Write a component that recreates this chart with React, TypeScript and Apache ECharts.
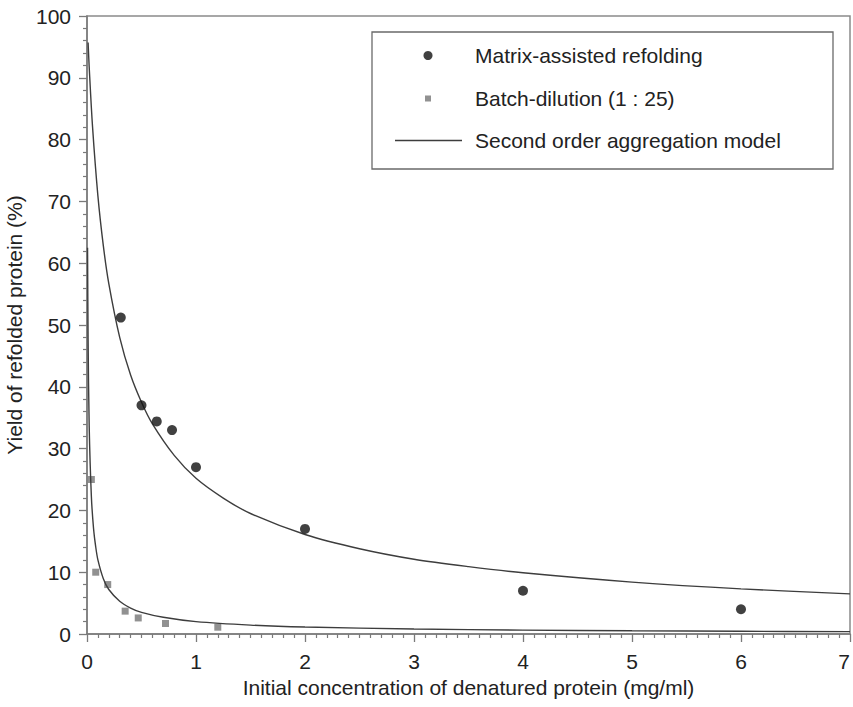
import React, { useEffect, useRef } from "react";
import * as echarts from "echarts";

// Matrix-assisted refolding (circles)
const matrixX = [0.31, 0.5, 0.64, 0.78, 1.0, 2.0, 4.0, 6.0];
const matrixY = [51.2, 37.0, 34.4, 33.0, 27.0, 17.0, 7.0, 4.0];

// Batch-dilution 1:25 (squares)
const batchX = [0.04, 0.08, 0.19, 0.35, 0.47, 0.72, 1.2];
const batchY = [25.0, 10.0, 8.0, 3.7, 2.6, 1.7, 1.1];

// Second order aggregation model, upper curve
const modelUpperX = [0.01, 0.02, 0.05, 0.1, 0.15, 0.2, 0.3, 0.4, 0.5, 0.6, 0.8, 1.0, 1.25, 1.5, 2.0, 2.5, 3.0, 3.5, 4.0, 5.0, 6.0, 7.0];
const modelUpperY = [95.7, 91.8, 82.3, 70.9, 62.8, 56.7, 48.0, 41.9, 37.5, 34.0, 28.9, 25.2, 22.0, 19.5, 16.1, 13.8, 12.1, 10.9, 9.9, 8.4, 7.3, 6.5];

// Second order aggregation model, lower curve
const modelLowerX = [0.005, 0.01, 0.02, 0.04, 0.06, 0.08, 0.1, 0.15, 0.2, 0.3, 0.4, 0.5, 0.7, 1.0, 1.5, 2.0, 3.0, 4.0, 5.0, 6.0, 7.0];
const modelLowerY = [62.5, 47.7, 33.7, 22.3, 17.1, 14.1, 12.0, 8.95, 7.2, 5.3, 4.2, 3.5, 2.7, 2.0, 1.44, 1.13, 0.8, 0.63, 0.52, 0.44, 0.39];

const xTickMin = 0;
const xTickMax = 7;
const yTickMin = 0;
const yTickMax = 100;

const SERIES_MATRIX = "Matrix-assisted refolding";
const SERIES_BATCH = "Batch-dilution (1 : 25)";
const SERIES_MODEL = "Second order aggregation model";

const FONT = "'Liberation Sans', Arial, Helvetica, sans-serif";
const TEXT = "#222";
const AXIS = "#7a7a7a";
const CURVE = "#3d3d3d";

const zip = (xs: number[], ys: number[]) => xs.map((x, i) => [x, ys[i]]);

export default function App() {
  const ref = useRef<HTMLDivElement>(null);
  useEffect(() => {
    if (!ref.current) return;
    const chart = echarts.init(ref.current, undefined, { renderer: "svg" });
    const legendText = (pad: number) => ({
      color: TEXT,
      fontSize: 21,
      fontFamily: FONT,
      padding: [0, 0, 0, pad],
    });
    chart.setOption({
      animation: false,
      backgroundColor: "#fff",
      grid: {
        left: 87,
        right: 3,
        top: 16,
        bottom: 73,
        show: true,
        borderColor: "#8a8a8a",
        borderWidth: 1.5,
        containLabel: false,
        outerBoundsMode: "none",
      },
      legend: [
        {
          data: [{ name: SERIES_MATRIX, icon: "circle" }],
          left: 423.5,
          top: 45,
          padding: 0,
          itemWidth: 9,
          itemHeight: 9,
          textStyle: legendText(37.5),
        },
        {
          data: [{ name: SERIES_BATCH, icon: "rect" }],
          left: 425,
          top: 88,
          padding: 0,
          itemWidth: 6,
          itemHeight: 6,
          textStyle: legendText(39),
        },
        {
          data: [{ name: SERIES_MODEL, icon: "path://M0,0L67,0L67,1.4L0,1.4Z" }],
          left: 395,
          top: 130,
          padding: 0,
          itemWidth: 67,
          itemHeight: 1.4,
          textStyle: legendText(8),
        },
      ],
      graphic: [
        {
          type: "rect",
          shape: { x: 372, y: 32, width: 461, height: 137 },
          style: { fill: "none", stroke: "#6a6a6a", lineWidth: 1.3 },
          z: 10,
        },
      ],
      xAxis: {
        type: "value",
        min: xTickMin,
        max: xTickMax,
        interval: 1,
        name: "Initial concentration of denatured protein (mg/ml)",
        nameLocation: "middle",
        nameGap: 42,
        nameTextStyle: { color: TEXT, fontSize: 21, fontFamily: FONT },
        axisLine: { show: true, lineStyle: { color: AXIS, width: 1.5 } },
        axisTick: { show: true, inside: false, length: 8, lineStyle: { color: AXIS, width: 1.3 } },
        minorTick: { show: true, splitNumber: 10, length: 4, lineStyle: { color: AXIS, width: 1.2 } },
        axisLabel: { color: TEXT, fontSize: 21, fontFamily: FONT, margin: 17, alignMaxLabel: "right" },
        splitLine: { show: false },
      },
      yAxis: {
        type: "value",
        min: yTickMin,
        max: yTickMax,
        interval: 10,
        name: "Yield of refolded protein (%)",
        nameLocation: "middle",
        nameGap: 53,
        nameTextStyle: { color: TEXT, fontSize: 21, fontFamily: FONT },
        axisLine: { show: true, lineStyle: { color: AXIS, width: 1.5 } },
        axisTick: { show: true, inside: false, length: 8, lineStyle: { color: AXIS, width: 1.3 } },
        minorTick: { show: true, splitNumber: 5, length: 4, lineStyle: { color: AXIS, width: 1.2 } },
        axisLabel: { color: TEXT, fontSize: 21, fontFamily: FONT, margin: 16 },
        splitLine: { show: false },
      },
      series: [
        {
          name: SERIES_MODEL,
          type: "line",
          data: zip(modelUpperX, modelUpperY),
          smooth: 0.3,
          showSymbol: false,
          symbol: "none",
          lineStyle: { color: CURVE, width: 1.4 },
          itemStyle: { color: CURVE },
          z: 3,
        },
        {
          name: SERIES_MODEL,
          type: "line",
          data: zip(modelLowerX, modelLowerY),
          smooth: 0.3,
          showSymbol: false,
          symbol: "none",
          lineStyle: { color: CURVE, width: 1.4 },
          itemStyle: { color: CURVE },
          z: 3,
        },
        {
          name: SERIES_MATRIX,
          type: "scatter",
          data: zip(matrixX, matrixY),
          symbol: "circle",
          symbolSize: 10,
          itemStyle: { color: "#111" },
          z: 4,
        },
        {
          name: SERIES_BATCH,
          type: "scatter",
          data: zip(batchX, batchY),
          symbol: "rect",
          symbolSize: 7,
          itemStyle: { color: "#757575" },
          z: 2,
        },
      ],
    });
    return () => chart.dispose();
  }, []);
  return (
    <div
      ref={ref}
      style={{ position: "fixed", left: 0, top: 0, width: 853, height: 707 }}
    />
  );
}
